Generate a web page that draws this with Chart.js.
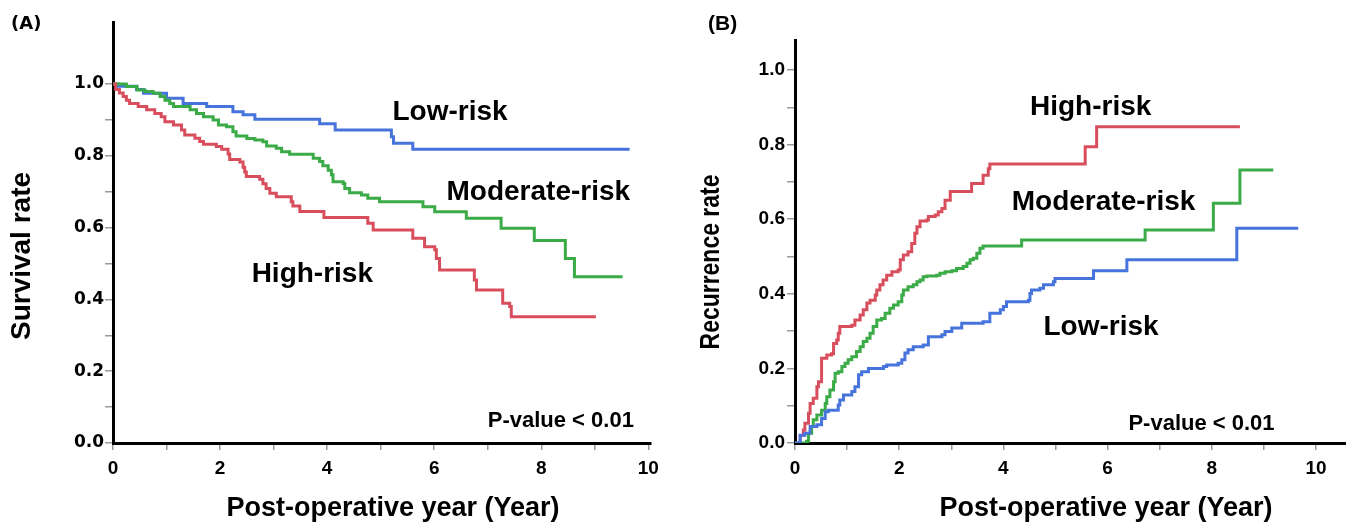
<!DOCTYPE html>
<html>
<head>
<meta charset="utf-8">
<script src="https://cdn.jsdelivr.net/npm/chart.js@4.4.0/dist/chart.umd.min.js"></script>
<style>
  html, body { margin: 0; padding: 0; background: #fff; }
  #wrap { position: relative; width: 1346px; height: 523px; }
  canvas { position: absolute; top: 0; }
  #chart-a { left: 0; }
  #chart-b { left: 680px; }
</style>
</head>
<body>
<div id="wrap">
  <canvas id="chart-a" width="680" height="523"></canvas>
  <canvas id="chart-b" width="666" height="523"></canvas>
</div>
<script>
// (A) survival — [year, rate] at each Kaplan-Meier step
const survivalLow = [[0,1.0],[0.1,0.994],[0.44,0.985],[0.57,0.974],[1.0,0.960],[1.31,0.946],[1.75,0.937],[2.24,0.923],[2.43,0.914],[2.65,0.902],[3.86,0.889],[4.15,0.872],[5.2,0.853],[5.24,0.835],[5.6,0.818],[9.65,0.818]];
const survivalModerate = [[0,1.0],[0.25,0.993],[0.45,0.983],[0.6,0.979],[0.75,0.974],[0.88,0.965],[0.97,0.955],[1.06,0.946],[1.13,0.937],[1.44,0.928],[1.56,0.918],[1.69,0.909],[1.87,0.900],[1.97,0.886],[2.12,0.881],[2.24,0.867],[2.30,0.855],[2.50,0.848],[2.65,0.844],[2.80,0.839],[2.87,0.827],[3.05,0.821],[3.15,0.811],[3.30,0.804],[3.74,0.793],[3.86,0.784],[3.92,0.772],[4.02,0.760],[4.08,0.747],[4.11,0.728],[4.30,0.723],[4.33,0.709],[4.42,0.697],[4.64,0.691],[4.76,0.682],[4.98,0.672],[5.79,0.658],[6.01,0.644],[6.60,0.626],[7.25,0.598],[7.87,0.564],[8.45,0.514],[8.62,0.463],[9.52,0.463]];
const survivalHigh = [[0,1.0],[0.05,0.985],[0.12,0.975],[0.19,0.965],[0.25,0.955],[0.31,0.946],[0.47,0.937],[0.63,0.928],[0.78,0.918],[0.90,0.909],[0.97,0.895],[1.13,0.886],[1.28,0.872],[1.34,0.858],[1.53,0.849],[1.62,0.840],[1.69,0.832],[1.93,0.826],[2.03,0.818],[2.15,0.805],[2.18,0.790],[2.37,0.783],[2.43,0.768],[2.46,0.755],[2.49,0.742],[2.74,0.735],[2.80,0.722],[2.86,0.709],[2.93,0.696],[3.05,0.686],[3.33,0.672],[3.36,0.660],[3.49,0.645],[3.94,0.628],[4.76,0.612],[4.86,0.593],[5.60,0.570],[5.82,0.547],[6.01,0.538],[6.04,0.514],[6.10,0.482],[6.75,0.454],[6.79,0.426],[7.28,0.389],[7.41,0.380],[7.44,0.352],[9.02,0.352]];

// (B) recurrence — [year, rate]
const recurLow = [[0,0],[0.1,0.021],[0.19,0.026],[0.29,0.044],[0.42,0.049],[0.51,0.066],[0.58,0.084],[0.64,0.088],[0.83,0.102],[0.86,0.115],[0.93,0.129],[1.09,0.138],[1.15,0.151],[1.22,0.183],[1.28,0.191],[1.41,0.200],[1.70,0.205],[1.76,0.209],[1.98,0.214],[2.05,0.223],[2.11,0.241],[2.17,0.250],[2.27,0.258],[2.46,0.263],[2.56,0.285],[2.82,0.290],[2.88,0.299],[3.01,0.308],[3.20,0.321],[3.61,0.325],[3.74,0.348],[3.94,0.357],[4.00,0.366],[4.06,0.379],[4.48,0.383],[4.51,0.401],[4.54,0.410],[4.70,0.415],[4.77,0.424],[4.96,0.432],[4.99,0.441],[5.73,0.462],[6.37,0.491],[8.48,0.576],[9.66,0.576]];
const recurModerate = [[0,0],[0.22,0.005],[0.26,0.026],[0.32,0.044],[0.35,0.062],[0.42,0.075],[0.51,0.088],[0.58,0.106],[0.61,0.124],[0.67,0.142],[0.74,0.164],[0.77,0.187],[0.83,0.191],[0.90,0.205],[0.96,0.214],[1.02,0.223],[1.09,0.231],[1.18,0.245],[1.25,0.258],[1.31,0.272],[1.38,0.281],[1.44,0.294],[1.50,0.312],[1.57,0.330],[1.66,0.334],[1.73,0.348],[1.82,0.361],[1.89,0.370],[1.98,0.379],[2.05,0.397],[2.08,0.410],[2.17,0.419],[2.27,0.424],[2.34,0.432],[2.40,0.437],[2.46,0.446],[2.53,0.448],[2.72,0.450],[2.78,0.455],[2.88,0.459],[3.01,0.462],[3.10,0.468],[3.23,0.473],[3.30,0.482],[3.36,0.491],[3.42,0.495],[3.49,0.509],[3.55,0.522],[3.61,0.528],[4.35,0.544],[6.72,0.571],[8.03,0.643],[8.54,0.732],[9.18,0.732]];
const recurHigh = [[0,0],[0.1,0.020],[0.16,0.035],[0.19,0.053],[0.26,0.080],[0.29,0.106],[0.35,0.120],[0.42,0.151],[0.45,0.164],[0.51,0.227],[0.61,0.236],[0.70,0.239],[0.74,0.267],[0.80,0.276],[0.83,0.294],[0.86,0.312],[1.09,0.316],[1.15,0.330],[1.25,0.343],[1.31,0.357],[1.38,0.375],[1.44,0.383],[1.54,0.397],[1.57,0.410],[1.63,0.424],[1.69,0.437],[1.76,0.450],[1.86,0.459],[1.98,0.464],[2.02,0.491],[2.08,0.504],[2.17,0.513],[2.24,0.535],[2.30,0.562],[2.34,0.580],[2.40,0.595],[2.53,0.598],[2.56,0.607],[2.69,0.611],[2.75,0.620],[2.82,0.629],[2.88,0.651],[2.98,0.674],[3.39,0.696],[3.61,0.718],[3.71,0.735],[3.74,0.748],[5.57,0.794],[5.79,0.848],[8.54,0.848]];

// tick marks every 0.1 (y) and every year (x); labels only on these
const yTickValues = [0, 0.2, 0.4, 0.6, 0.8, 1.0];
const xTickValues = [0, 2, 4, 6, 8, 10];

const BLUE = '#4674dc', GREEN = '#3aab46', RED = '#d94e5d';
const SANS = "'Liberation Sans', Arial, sans-serif";

// free text; `at` is in data units, `px` in canvas pixels
function textPlugin(items) {
  return {
    id: 'textLabels',
    afterDraw(chart) {
      const ctx = chart.ctx, sx = chart.scales.x, sy = chart.scales.y;
      items.forEach(it => {
        const x = it.at ? sx.getPixelForValue(it.at[0]) : it.px[0];
        const y = it.at ? sy.getPixelForValue(it.at[1]) : it.px[1];
        ctx.save();
        ctx.fillStyle = '#000';
        ctx.font = it.font;
        ctx.textAlign = it.align || 'left';
        ctx.textBaseline = it.baseline || 'alphabetic';
        ctx.translate(x, y);
        if (it.rotate) ctx.rotate(-Math.PI / 2);
        if (it.squeeze) ctx.scale(it.squeeze, 1);
        ctx.fillText(it.text, 0, 0);
        ctx.restore();
      });
    }
  };
}

function series(label, pts, color) {
  return {
    label,
    data: pts.map(([x, y]) => ({ x, y })),
    borderColor: color,
    borderWidth: 3,
    stepped: true,
    pointRadius: 0,
    fill: false
  };
}

function steps(from, to, step) {
  const out = [];
  for (let i = 0; from + i * step <= to + 1e-9; i++) out.push({ value: +(from + i * step).toFixed(2) });
  return out;
}

function makeChart(id, cfg) {
  const isMajor = (v, list) => list.some(m => Math.abs(m - v) < 1e-6);
  return new Chart(document.getElementById(id), {
    type: 'line',
    data: { datasets: cfg.datasets },
    options: {
      responsive: false,
      animation: false,
      layout: { padding: cfg.padding },
      plugins: {
        legend: { display: false },
        tooltip: { enabled: false }
      },
      scales: {
        x: {
          type: 'linear', min: 0, max: cfg.xMax,
          border: { display: true, color: '#000', width: 3 },
          grid: { display: true, drawOnChartArea: false, drawTicks: true, tickLength: 7, color: '#9a9a9a', lineWidth: 1.5 },
          afterBuildTicks: s => { s.ticks = steps(0, 10, 1); },
          afterFit: s => { s.height = 80; },
          ticks: {
            autoSkip: false, maxRotation: 0, padding: 7, color: '#000',
            font: { family: "'Liberation Sans Narrow', 'Liberation Sans', Arial, sans-serif", size: 19, weight: 'bold' },
            callback: v => isMajor(v, xTickValues) ? String(v) : ''
          }
        },
        y: {
          type: 'linear', min: 0, max: cfg.yMax,
          border: { display: true, color: '#000', width: 3 },
          grid: { display: true, drawOnChartArea: false, drawTicks: true, tickLength: 8, color: '#9a9a9a', lineWidth: 1.5 },
          afterBuildTicks: s => { s.ticks = steps(0, 1, 0.1); },
          afterFit: s => { s.width = cfg.yWidth; },
          ticks: {
            autoSkip: false, padding: cfg.yPad, color: '#000',
            font: cfg.yFont,
            callback: v => isMajor(v, yTickValues) ? v.toFixed(1) : ''
          }
        }
      }
    },
    plugins: [textPlugin(cfg.texts)]
  });
}

makeChart('chart-a', {
  datasets: [
    series('High-risk', survivalHigh, RED),
    series('Moderate-risk', survivalModerate, GREEN),
    series('Low-risk', survivalLow, BLUE)
  ],
  padding: { top: 22, right: 29, left: 0, bottom: 0 },
  xMax: 10.05, yMax: 1.1727, yWidth: 113, yPad: 1,
  yFont: { family: "'DejaVu Sans', Verdana, sans-serif", size: 17, weight: 'bold' },
  texts: [
    { text: '(A)', px: [11, 29], font: "bold 18px 'DejaVu Sans', Verdana, sans-serif" },
    { text: 'Survival rate', px: [22, 256], rotate: true, align: 'center', baseline: 'middle', font: 'bold 28px ' + SANS },
    { text: 'Post-operative year (Year)', px: [393, 516], align: 'center', font: 'bold 27px ' + SANS },
    { text: 'Low-risk', at: [5.22, 0.90], font: 'bold 28px ' + SANS },
    { text: 'Moderate-risk', at: [6.23, 0.677], font: 'bold 28px ' + SANS },
    { text: 'High-risk', at: [2.59, 0.449], font: 'bold 28px ' + SANS },
    { text: 'P-value < 0.01', at: [7.0, 0.045], font: 'bold 22px ' + SANS }
  ]
});

makeChart('chart-b', {
  datasets: [
    series('Low-risk', recurLow, BLUE),
    series('Moderate-risk', recurModerate, GREEN),
    series('High-risk', recurHigh, RED)
  ],
  padding: { top: 40, right: 0, left: 0, bottom: 0 },
  xMax: 10.576, yMax: 1.0804, yWidth: 115, yPad: 2,
  yFont: { family: SANS, size: 19, weight: 'bold' },
  texts: [
    { text: '(B)', px: [28, 30], font: 'bold 21px ' + SANS },
    { text: 'Recurrence rate', px: [31, 262], rotate: true, align: 'center', baseline: 'middle', squeeze: 0.82, font: 'bold 28px ' + SANS },
    { text: 'Post-operative year (Year)', px: [426, 516], align: 'center', font: 'bold 27px ' + SANS },
    { text: 'High-risk', at: [4.51, 0.879], font: 'bold 28px ' + SANS },
    { text: 'Moderate-risk', at: [4.16, 0.625], font: 'bold 28px ' + SANS },
    { text: 'Low-risk', at: [4.77, 0.290], font: 'bold 28px ' + SANS },
    { text: 'P-value < 0.01', at: [6.40, 0.035], font: 'bold 22px ' + SANS }
  ]
});
</script>
</body>
</html>
